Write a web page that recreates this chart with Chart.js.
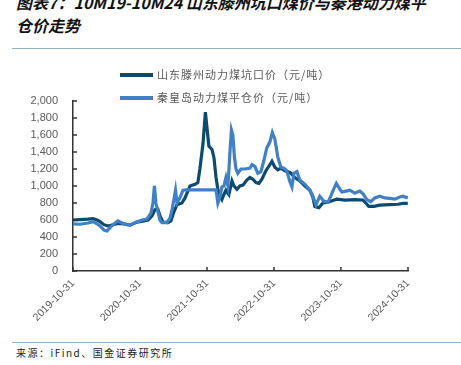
<!DOCTYPE html>
<html>
<head>
<meta charset="utf-8">
<script src="https://cdn.jsdelivr.net/npm/chart.js@4/dist/chart.umd.min.js"></script>
<style>
  html, body { margin: 0; padding: 0; background: #fff; }
  body { width: 461px; height: 365px; position: relative; overflow: hidden; font-family: "Noto Sans CJK SC", sans-serif; }
  #title { position: absolute; left: 16px; top: -9px; font-size: 16px; line-height: 23px; font-weight: bold; font-style: italic; letter-spacing: 0; color: #111; white-space: nowrap; }
  .rule { position: absolute; left: 12px; right: 0; height: 1px; background: #8fb0c9; }
  .legend { position: absolute; left: 120px; font-size: 11px; color: #595959; letter-spacing: 1px; white-space: nowrap; }
  .legend span { display: inline-block; width: 33px; height: 4px; vertical-align: middle; margin-right: 4px; position: relative; top: -1px; }
  #source { position: absolute; left: 16px; top: 345px; font-size: 10px; letter-spacing: 1.5px; color: #222; white-space: nowrap; }
  #chart { position: absolute; left: 0; top: 0; }
</style>
</head>
<body>
<div id="title">图表7：10M19-10M24 山东滕州坑口煤价与秦港动力煤平<br>仓价走势</div>
<div class="rule" style="top:48px"></div>
<canvas id="chart" width="461" height="335"></canvas>
<div class="legend" style="top:66px"><span style="background:#0d4a70"></span>山东滕州动力煤坑口价（元/吨）</div>
<div class="legend" style="top:89px"><span style="background:#4180c4"></span>秦皇岛动力煤平仓价（元/吨）</div>
<div class="rule" style="top:342px"></div>
<div id="source">来源：iFind、国金证券研究所</div>

<script>
const seriesNames = ['山东滕州动力煤坑口价（元/吨）', '秦皇岛动力煤平仓价（元/吨）'];
const xTickLabels = ['2019-10-31', '2020-10-31', '2021-10-31', '2022-10-31', '2023-10-31', '2024-10-31'];
const yTicks = [0, 200, 400, 600, 800, 1000, 1200, 1400, 1600, 1800, 2000];

// 山东滕州
const tengzhouDates = ['2019-10-31','2019-12-08','2020-01-21','2020-02-17','2020-03-10','2020-03-26','2020-04-17','2020-05-09','2020-06-05','2020-07-02','2020-08-04','2020-09-06','2020-10-14','2020-11-21','2020-12-13','2021-01-04','2021-01-20','2021-02-05','2021-02-16','2021-03-05','2021-04-01','2021-04-17','2021-05-04','2021-05-20','2021-06-16','2021-07-03','2021-07-30','2021-08-26','2021-09-11','2021-09-22','2021-10-09','2021-10-22','2021-10-30','2021-11-10','2021-11-27','2021-12-08','2021-12-19','2021-12-29','2022-01-09','2022-01-20','2022-01-31','2022-02-11','2022-02-27','2022-03-16','2022-03-27','2022-04-12','2022-04-28','2022-05-15','2022-06-05','2022-06-22','2022-07-08','2022-07-25','2022-08-10','2022-08-26','2022-09-17','2022-10-09','2022-10-20','2022-11-05','2022-11-21','2022-12-08','2022-12-29','2023-01-26','2023-02-22','2023-03-21','2023-04-18','2023-05-15','2023-05-31','2023-06-11','2023-07-03','2023-07-25','2023-08-21','2023-09-17','2023-10-09','2023-11-22','2024-01-15','2024-02-28','2024-03-15','2024-03-31','2024-04-28','2024-05-30','2024-07-24','2024-09-06','2024-10-03','2024-10-30'];
const tengzhouValues = [600,605,610,615,600,580,545,530,545,560,555,540,575,590,600,650,720,725,650,575,570,590,700,780,800,860,1000,1020,1040,1200,1500,1870,1700,1470,1430,1330,1100,960,880,840,900,950,900,1060,1000,960,1000,1010,1070,1100,1080,1040,1030,1080,1180,1250,1290,1220,1190,1210,1180,1160,1100,1060,1000,950,870,760,745,800,810,830,845,835,840,835,800,760,760,775,780,785,795,795];

// 秦皇岛
const qinhuangdaoDates = ['2019-10-31','2019-12-08','2020-01-21','2020-02-17','2020-03-10','2020-03-26','2020-04-17','2020-05-03','2020-05-20','2020-06-05','2020-07-02','2020-07-24','2020-08-20','2020-09-11','2020-10-08','2020-11-10','2020-12-07','2020-12-29','2021-01-09','2021-01-17','2021-01-25','2021-02-05','2021-02-16','2021-02-27','2021-03-26','2021-04-12','2021-04-23','2021-05-04','2021-05-12','2021-05-20','2021-06-05','2021-06-22','2021-07-08','2021-09-22','2021-11-16','2021-12-19','2021-12-29','2022-01-09','2022-01-20','2022-01-31','2022-02-11','2022-02-22','2022-03-05','2022-03-13','2022-03-21','2022-03-29','2022-04-07','2022-04-17','2022-05-04','2022-05-26','2022-06-22','2022-07-03','2022-07-19','2022-08-04','2022-08-21','2022-09-06','2022-09-22','2022-10-09','2022-10-22','2022-11-05','2022-11-21','2022-12-08','2022-12-24','2023-01-09','2023-01-26','2023-02-06','2023-02-17','2023-03-05','2023-03-21','2023-04-18','2023-05-15','2023-05-31','2023-06-17','2023-07-08','2023-07-30','2023-08-21','2023-09-06','2023-09-23','2023-10-06','2023-10-20','2023-11-05','2023-11-27','2023-12-19','2024-01-15','2024-02-11','2024-02-28','2024-03-21','2024-04-11','2024-05-03','2024-05-30','2024-06-27','2024-07-24','2024-08-20','2024-09-16','2024-10-03','2024-10-30'];
const qinhuangdaoValues = [555,550,565,580,555,530,480,470,510,545,590,565,545,545,575,600,610,680,800,1000,800,700,600,570,570,620,720,850,950,800,860,950,955,955,955,955,800,870,990,1000,1100,1000,1400,1660,1600,1350,1200,1150,1200,1200,1210,1250,1230,1150,1170,1300,1450,1520,1630,1550,1340,1220,1210,1180,1050,990,1150,1170,1070,1020,950,880,780,880,820,810,880,970,1030,980,930,940,950,915,940,910,840,815,860,880,860,855,845,870,880,860];

const dayMs = 86400000;
const t0 = Date.parse(xTickLabels[0]);
const toDay = s => (Date.parse(s) - t0) / dayMs;
const tickDays = xTickLabels.map(toDay);

const inwardTicks = {
  id: 'inwardTicks',
  afterDraw(chart) {
    const { ctx, scales: { x, y } } = chart;
    ctx.save();
    ctx.strokeStyle = '#333';
    ctx.lineWidth = 1.5;
    ctx.beginPath();
    tickDays.forEach(v => {
      const px = x.getPixelForValue(v);
      ctx.moveTo(px, y.bottom);
      ctx.lineTo(px, y.bottom - 4);
    });
    yTicks.forEach(v => {
      const py = y.getPixelForValue(v);
      ctx.moveTo(x.left, py);
      ctx.lineTo(x.left + 4, py);
    });
    ctx.stroke();
    ctx.restore();
  }
};

new Chart(document.getElementById('chart').getContext('2d'), {
  type: 'line',
  data: {
    datasets: [
      {
        label: seriesNames[1],
        data: qinhuangdaoDates.map((d, i) => ({ x: toDay(d), y: qinhuangdaoValues[i] })),
        borderColor: '#4180c4',
        borderWidth: 3.2,
        pointRadius: 0,
        tension: 0
      },
      {
        label: seriesNames[0],
        data: tengzhouDates.map((d, i) => ({ x: toDay(d), y: tengzhouValues[i] })),
        borderColor: '#0d4a70',
        borderWidth: 3.2,
        pointRadius: 0,
        tension: 0
      }
    ]
  },
  options: {
    responsive: false,
    animation: false,
    layout: { padding: { top: 101, right: 53, left: 0, bottom: 0 } },
    plugins: { legend: { display: false }, tooltip: { enabled: false } },
    scales: {
      x: {
        type: 'linear',
        min: tickDays[0],
        max: tickDays[tickDays.length - 1],
        afterBuildTicks: scale => { scale.ticks = tickDays.map(v => ({ value: v })); },
        afterFit: scale => { scale.height = 335 - 271; },
        grid: { display: false, drawTicks: false },
        border: { display: true, color: '#333', width: 1.5 },
        ticks: {
          autoSkip: false,
          minRotation: 45,
          maxRotation: 45,
          padding: 6,
          color: '#595959',
          font: { family: 'Liberation Sans', size: 10.5 },
          callback: (v, i) => xTickLabels[i]
        }
      },
      y: {
        min: 0,
        max: 2000,
        afterBuildTicks: scale => { scale.ticks = yTicks.map(v => ({ value: v })); },
        afterFit: scale => { scale.width = 73; },
        grid: { display: false, drawTicks: false },
        border: { display: true, color: '#333', width: 1.5 },
        ticks: {
          padding: 15,
          color: '#595959',
          font: { family: 'Liberation Sans', size: 11 },
          callback: v => v.toLocaleString('en-US')
        }
      }
    }
  },
  plugins: [inwardTicks]
});
</script>
</body>
</html>
